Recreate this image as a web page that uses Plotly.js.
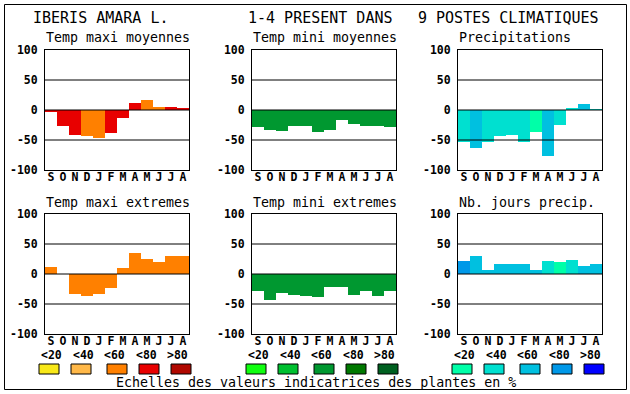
<!DOCTYPE html>
<html>
<head>
<meta charset="utf-8">
<script src="https://cdn.plot.ly/plotly-3.0.1.min.js"></script>
<style>html,body{margin:0;padding:0;background:#fff;}#chart{width:630px;height:394px;}</style>
</head>
<body>
<div id="chart"></div>
<script>
// ---- data ----
const months = ["S","O","N","D","J","F","M","A","M","J","J","A"];
const yTicks = [-100, -50, 0, 50, 100];
const classLabels = ["<20", "<40", "<60", "<80", ">80"];

const maxiMoyValues   = [-4, -26, -42, -43, -46, -38, -14, 12, 17, 5, 5, 3];
const maxiMoyClass    = [3, 3, 3, 2, 2, 3, 3, 3, 2, 2, 3, 3];
const miniMoyValues   = [-28, -33, -35, -27, -27, -36, -33, -16, -23, -26, -26, -28];
const miniMoyClass    = [2, 2, 2, 2, 2, 2, 2, 2, 2, 2, 2, 2];
const precipValues    = [-54, -63, -53, -44, -42, -53, -36, -76, -25, 4, 10, 2];
const precipClass     = [1, 2, 1, 1, 1, 1, 0, 2, 1, 1, 2, 1];
const maxiExtValues   = [12, 0, -33, -36, -33, -23, 10, 35, 25, 20, 30, 30];
const maxiExtClass    = [2, 2, 2, 2, 2, 2, 2, 2, 2, 2, 2, 2];
const miniExtValues   = [-28, -44, -32, -35, -37, -38, -22, -22, -35, -28, -37, -28];
const miniExtClass    = [2, 2, 2, 2, 2, 2, 2, 2, 2, 2, 2, 2];
const joursValues     = [22, 30, 7, 17, 17, 17, 7, 22, 20, 23, 13, 17];
const joursClass      = [3, 2, 2, 2, 2, 2, 2, 1, 0, 1, 2, 2];

const titleParts = ["IBERIS AMARA L.", "1-4 PRESENT DANS", "9 POSTES CLIMATIQUES"];
const panelTitles = ["Temp maxi moyennes", "Temp mini moyennes", "Precipitations",
                     "Temp maxi extremes", "Temp mini extremes", "Nb. jours precip."];
const caption = "Echelles des valeurs indicatrices des plantes en %";

// ---- styles ----
const warm  = ["#f8e818", "#ffb848", "#ff8000", "#e80000", "#b00800"];
const green = ["#10ff10", "#00c030", "#009830", "#007800", "#006020"];
const blue  = ["#00ffa8", "#00e0d0", "#00c0e0", "#0098e8", "#0000ff"];

const W = 630, H = 394;
const panelLeft = [45, 252, 458];
const panelW = 144;
const rowTop = [50, 214];
const panelH = 120;

const panels = [
  {v: maxiMoyValues, c: maxiMoyClass, pal: warm,  col: 0, row: 0},
  {v: miniMoyValues, c: miniMoyClass, pal: green, col: 1, row: 0},
  {v: precipValues,  c: precipClass,  pal: blue,  col: 2, row: 0},
  {v: maxiExtValues, c: maxiExtClass, pal: warm,  col: 0, row: 1},
  {v: miniExtValues, c: miniExtClass, pal: green, col: 1, row: 1},
  {v: joursValues,   c: joursClass,   pal: blue,  col: 2, row: 1}
];

const MONO = '"DejaVu Sans Mono", "Liberation Mono", monospace';
const xIdx = months.map((m, i) => i);

const data = [];
const layout = {
  width: W, height: H,
  margin: {l: 0, r: 0, t: 0, b: 0},
  paper_bgcolor: "#ffffff", plot_bgcolor: "#ffffff",
  showlegend: false, bargap: 0,
  shapes: [], annotations: []
};

panels.forEach((p, i) => {
  const n = i + 1;
  const xa = n === 1 ? "x" : "x" + n;
  const ya = n === 1 ? "y" : "y" + n;
  data.push({
    type: "bar", x: xIdx, y: p.v, width: 1,
    marker: {color: p.c.map(k => p.pal[k]), line: {width: 0}},
    xaxis: xa, yaxis: ya, hoverinfo: "skip"
  });
  const l = panelLeft[p.col], t = rowTop[p.row];
  layout["xaxis" + (n === 1 ? "" : n)] = {
    domain: [l / W, (l + panelW) / W], anchor: ya,
    range: [-0.5, 11.5], tickvals: xIdx, ticktext: months, tickangle: 0,
    showline: true, mirror: true, linecolor: "#000", linewidth: 1,
    showgrid: false, zeroline: false, ticks: "", fixedrange: true,
    ticklabelstandoff: -4,
    tickfont: {family: MONO, size: 11.5, color: "#000", weight: "bold"}
  };
  layout["yaxis" + (n === 1 ? "" : n)] = {
    domain: [(H - t - panelH) / H, (H - t) / H], anchor: xa,
    range: [-100, 100], tickvals: yTicks, ticktext: yTicks.map(String),
    showline: true, mirror: true, linecolor: "#000", linewidth: 1,
    showgrid: false, zeroline: false, ticks: "", fixedrange: true,
    ticklabelstandoff: 4,
    tickfont: {family: MONO, size: 11.5, color: "#000", weight: "bold"}
  };
  [50, 0, -50].forEach(v => {
    layout.shapes.push({type: "line", layer: "above", xref: xa + " domain", yref: ya,
      x0: 0, x1: 1, y0: v, y1: v, line: {color: "#000", width: 1}});
  });
  layout.annotations.push({
    text: panelTitles[i], xref: "paper", yref: "paper",
    x: (l - 1) / W, y: (H - (p.row === 0 ? 38 : 202)) / H,
    xanchor: "left", yanchor: "middle", showarrow: false,
    font: {family: MONO, size: 13.3, color: "#000"}
  });
});

// main title
const titleX = [31, 246, 416];
titleParts.forEach((s, i) => {
  layout.annotations.push({
    text: s, xref: "paper", yref: "paper", x: titleX[i] / W, y: (H - 18) / H,
    xanchor: "left", yanchor: "middle", showarrow: false,
    font: {family: MONO, size: 15, color: "#000"}
  });
});

// class legends
const boxOffsets = [-6, 26, 62, 94, 126];
const labelOffsets = [-5, 27, 58, 90, 121];
const pals = [warm, green, blue];
panelLeft.forEach((l, ci) => {
  pals[ci].forEach((col, k) => {
    const bx = l + boxOffsets[k];
    layout.shapes.push({type: "rect", xref: "paper", yref: "paper", layer: "above",
      x0: bx / W, x1: (bx + 20) / W, y0: (H - 374) / H, y1: (H - 364) / H,
      fillcolor: col, line: {color: "#000", width: 1}});
    layout.annotations.push({
      text: classLabels[k], xref: "paper", yref: "paper",
      x: (l + labelOffsets[k] - 1) / W, y: (H - 355) / H,
      xanchor: "left", yanchor: "middle", showarrow: false,
      font: {family: MONO, size: 11.5, color: "#000", weight: "bold"}
    });
  });
});

layout.annotations.push({
  text: caption, xref: "paper", yref: "paper", x: 114 / W, y: (H - 382) / H,
  xanchor: "left", yanchor: "middle", showarrow: false,
  font: {family: MONO, size: 13.3, color: "#000"}
});

// outer border
layout.shapes.push({type: "rect", xref: "paper", yref: "paper", layer: "above",
  x0: 4.5 / W, x1: 626.5 / W, y0: (H - 389.5) / H, y1: (H - 4.5) / H,
  line: {color: "#000", width: 1}, fillcolor: "rgba(0,0,0,0)"});

Plotly.newPlot("chart", data, layout, {staticPlot: true, displayModeBar: false});
</script>
</body>
</html>
